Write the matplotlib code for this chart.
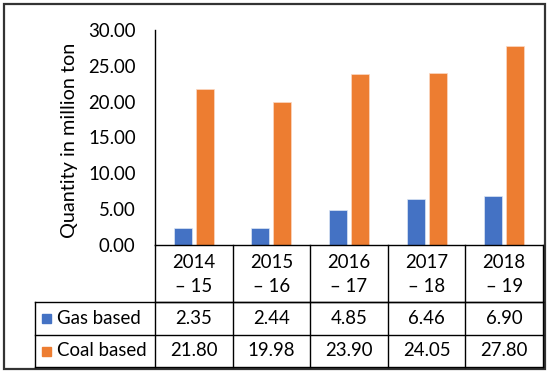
import matplotlib.pyplot as plt
from matplotlib.transforms import blended_transform_factory
from matplotlib.patches import Rectangle
from matplotlib.lines import Line2D

years = ['2014\n– 15', '2015\n– 16', '2016\n– 17', '2017\n– 18', '2018\n– 19']
gas = [2.35, 2.44, 4.85, 6.46, 6.90]
coal = [21.80, 19.98, 23.90, 24.05, 27.80]
series_names = ['Gas based', 'Coal based']
yticks = [0, 5, 10, 15, 20, 25, 30]

blue = '#4472C4'
orange = '#ED7D31'

plt.rcParams['font.family'] = ['Lato', 'DejaVu Sans']
W, H = 550, 373
FS = 13.4
fig = plt.figure(figsize=(W / 100, H / 100), dpi=100)


def fx(px):
    return px / W


def fy(py):
    return 1 - py / H


ax = fig.add_axes([fx(155), fy(245), fx(543) - fx(155), fy(30) - fy(245)])
x = list(range(len(years)))
ax.bar([i - 0.142 for i in x], gas, width=0.23, color=blue, edgecolor='#dde6f5', linewidth=0.5)
ax.bar([i + 0.142 for i in x], coal, width=0.23, color=orange, edgecolor='#fbd9c4', linewidth=0.5)
ax.set_xlim(-0.5, len(years) - 0.5)
ax.set_ylim(0, 30)
ax.set_yticks(yticks)
ax.set_yticklabels(['%.2f' % v for v in yticks], fontsize=FS)
ax.set_xticks([])
ax.tick_params(axis='y', length=0, pad=14)
for s in ['top', 'right']:
    ax.spines[s].set_visible(False)
ax.spines['left'].set_linewidth(1.0)
ax.spines['bottom'].set_linewidth(1.0)
fig.text(fx(70), fy(140), 'Quantity in million ton', rotation=90,
         ha='center', va='center', fontsize=14.3)

# data table under the axis
tr = blended_transform_factory(ax.transData, fig.transFigure)
rows = [245, 302, 335, 367]
lw = 1.0
for b in range(len(years) + 1):
    fig.add_artist(Line2D([b - 0.5, b - 0.5], [fy(245), fy(367)], transform=tr, color='black', lw=lw))
fig.add_artist(Line2D([-0.5, len(years) - 0.5], [fy(302), fy(302)], transform=tr, color='black', lw=lw))
for r in rows[1:]:
    fig.add_artist(Line2D([fx(35), fx(543)], [fy(r), fy(r)], transform=fig.transFigure, color='black', lw=lw))
fig.add_artist(Line2D([fx(35), fx(35)], [fy(302), fy(367)], transform=fig.transFigure, color='black', lw=lw))

for i, lab in enumerate(years):
    fig.text(i, fy(274.5), lab, transform=tr, ha='center', va='center',
             fontsize=FS, linespacing=1.55)
for r, (name, vals, col) in enumerate(zip(series_names, [gas, coal], [blue, orange])):
    yc = fy((rows[r + 1] + rows[r + 2]) / 2)
    for i, v in enumerate(vals):
        fig.text(i, yc, '%.2f' % v, transform=tr, ha='center', va='center', fontsize=FS)
    fig.add_artist(Rectangle((fx(42), yc - (9 / H) / 2), 9 / W, 9 / H,
                             transform=fig.transFigure, color=col))
    fig.text(fx(57), yc, name, ha='left', va='center', fontsize=FS)

# chart border
fig.add_artist(Rectangle((fx(4), fy(369)), fx(545) - fx(4), fy(4) - fy(369),
                         transform=fig.transFigure, fill=False, edgecolor='#333333', lw=1.6))

fig.savefig('out.png', dpi=100)
